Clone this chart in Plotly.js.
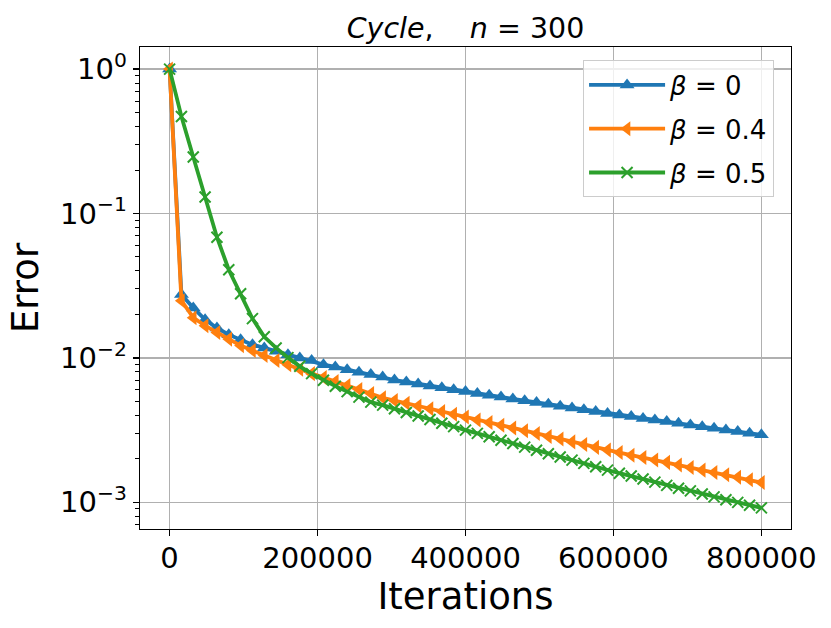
<!DOCTYPE html>
<html>
<head>
<meta charset="utf-8">
<script src="https://cdn.plot.ly/plotly-3.0.1.min.js"></script>
<style>html,body{margin:0;padding:0;background:#fff;}</style>
</head>
<body>
<div id="chart" style="width:831px;height:628px;"></div>
<script>
// Iterations (x): 51 checkpoints
const iterations = [0,16000,32000,48000,64000,80000,96000,112000,128000,144000,160000,176000,192000,208000,224000,240000,256000,272000,288000,304000,320000,336000,352000,368000,384000,400000,416000,432000,448000,464000,480000,496000,512000,528000,544000,560000,576000,592000,608000,624000,640000,656000,672000,688000,704000,720000,736000,752000,768000,784000,800000];

const errBeta0 = [1.0,0.0275,0.0222,0.0184,0.0161,0.01449,0.01337,0.01235,0.01172,0.0111,0.01052,0.0100,0.00958,0.00898,0.00865,0.00829,0.00794,0.00766,0.00738,0.00702,0.00681,0.0066,0.0064,0.0062,0.00601,0.00584,0.00567,0.00551,0.00535,0.0052,0.00505,0.00491,0.00477,0.00463,0.0045,0.00437,0.00425,0.00412,0.00402,0.00392,0.00381,0.00371,0.00362,0.00352,0.00343,0.00334,0.00325,0.00317,0.00309,0.00301,0.00293];

const errBeta04 = [1.0,0.0249,0.0190,0.0167,0.0150,0.01349,0.01216,0.01123,0.01037,0.0096,0.00895,0.00835,0.00778,0.0073,0.00685,0.00643,0.00603,0.00566,0.00529,0.00507,0.00485,0.00464,0.00444,0.00425,0.00407,0.00389,0.00372,0.00357,0.00341,0.00327,0.00313,0.00299,0.00286,0.00274,0.00262,0.00251,0.0024,0.0023,0.00221,0.00212,0.00204,0.00196,0.00189,0.00181,0.00174,0.00167,0.00161,0.00155,0.00149,0.00143,0.00137];

const errBeta05 = [1.0,0.470,0.246,0.130,0.0685,0.0408,0.0278,0.0187,0.0140,0.01172,0.01004,0.00874,0.00778,0.00701,0.00637,0.00584,0.00535,0.00494,0.00471,0.00444,0.00419,0.00396,0.00374,0.00353,0.00334,0.00316,0.0030,0.00284,0.00269,0.00255,0.00241,0.00229,0.00217,0.00206,0.00196,0.00186,0.00176,0.00167,0.00159,0.00152,0.00145,0.00138,0.00131,0.00125,0.0012,0.00114,0.00109,0.00104,0.000998,0.000955,0.000915];

const seriesNames = ['<i>β</i> = 0', '<i>β</i> = 0.4', '<i>β</i> = 0.5'];
const xTickVals = [0,200000,400000,600000,800000];
const yTickVals = [0.001,0.01,0.1,1];
const yTickText = ['10<sup>−3</sup>','10<sup>−2</sup>','10<sup>−1</sup>','10<sup>0</sup>'];

const minorVals = [];
for (let k = -4; k <= 0; k++) for (let m = 2; m <= 9; m++) minorVals.push(m * Math.pow(10, k));

const colors = ['#1f77b4', '#ff7f0e', '#2ca02c'];

const traces = [
  {x: iterations, y: errBeta0, name: seriesNames[0], legendgroup: 'a', mode: 'lines+markers',
   line: {color: colors[0], width: 3.8},
   marker: {symbol: 'triangle-up', size: 13, color: colors[0]}},
  {x: iterations, y: errBeta04, name: seriesNames[1], legendgroup: 'b', mode: 'lines+markers',
   line: {color: colors[1], width: 3.8},
   marker: {symbol: 'triangle-left', size: 13, color: colors[1]}},
  {x: iterations, y: errBeta05, name: seriesNames[2], legendgroup: 'c', mode: 'lines+markers',
   line: {color: colors[2], width: 3.8},
   marker: {symbol: 'x-thin', size: 11, color: colors[2], line: {color: colors[2], width: 2}}}
];

const font = 'DejaVu Sans, sans-serif';
const layout = {
  width: 831, height: 628,
  margin: {l: 140, r: 40, t: 47, b: 99, pad: 0},
  paper_bgcolor: '#fff', plot_bgcolor: '#fff',
  font: {family: font, color: '#000'},
  showlegend: true,
  title: {text: '<i>Cycle</i>,\u00a0\u00a0\u00a0\u00a0<i>n</i> = 300', font: {family: font, size: 28.5, color: '#000'},
          x: 0.5, xref: 'paper', xanchor: 'center', y: 1 - 28/628, yref: 'container', yanchor: 'middle'},
  xaxis: {
    range: [-40000, 840000], tickmode: 'array', tickvals: xTickVals, tickformat: 'd',
    showgrid: true, gridcolor: '#b0b0b0', gridwidth: 1.3, zeroline: false,
    showline: true, mirror: true, linecolor: '#000', linewidth: 1.3,
    ticks: 'outside', ticklen: 6, tickwidth: 1.3, tickcolor: '#000',
    tickfont: {family: font, size: 29, color: '#000'}, ticklabelstandoff: -3,
    title: {text: 'Iterations', font: {family: font, size: 37, color: '#000'}, standoff: 4}
  },
  yaxis: {
    type: 'log', range: [-3.185, 0.153], tickmode: 'array', tickvals: yTickVals, ticktext: yTickText,
    showgrid: true, gridcolor: '#b0b0b0', gridwidth: 1.3, zeroline: false,
    showline: true, mirror: true, linecolor: '#000', linewidth: 1.3,
    ticks: 'outside', ticklen: 6, tickwidth: 1.3, tickcolor: '#000',
    tickfont: {family: font, size: 29, color: '#000'},
    minor: {tickmode: 'array', tickvals: minorVals, ticks: 'outside', ticklen: 3.5, tickwidth: 1, tickcolor: '#000', showgrid: false},
    title: {text: 'Error', font: {family: font, size: 37, color: '#000'}, standoff: 10}
  },
  legend: {
    x: 0.974, y: 0.972, xanchor: 'right', yanchor: 'top',
    bgcolor: 'rgba(255,255,255,0.8)', bordercolor: '#cccccc', borderwidth: 1,
    font: {family: font, size: 26, color: '#000'},
    traceorder: 'grouped', tracegroupgap: 7, itemwidth: 76
  }
};

Plotly.newPlot('chart', traces, layout, {displayModeBar: false, staticPlot: true});
</script>
</body>
</html>
